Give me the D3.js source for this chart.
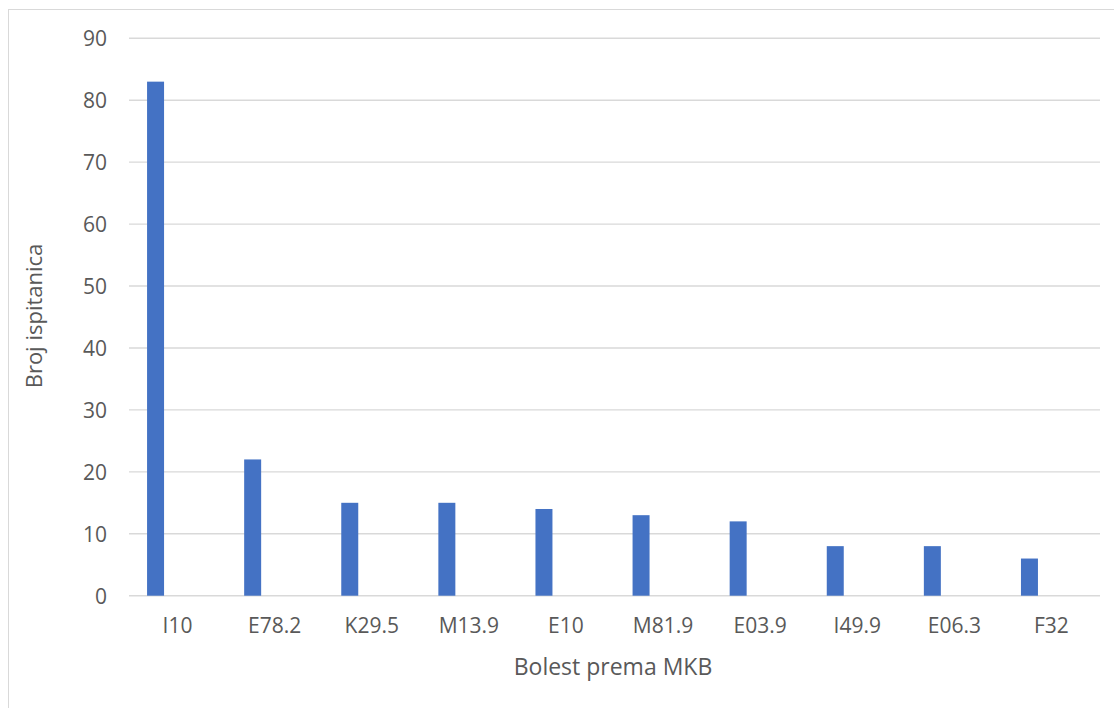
<!DOCTYPE html>
<html>
<head>
<meta charset="utf-8">
<script src="https://cdn.jsdelivr.net/npm/d3@7"></script>
<style>
  html, body { margin: 0; padding: 0; background: #fff; }
  svg { display: block; }
  text { font-family: "Open Sans", "Liberation Sans", sans-serif; fill: #595959; }
</style>
</head>
<body>
<svg id="chart" width="1114" height="708"></svg>
<script>
const categories = ["I10", "E78.2", "K29.5", "M13.9", "E10", "M81.9", "E03.9", "I49.9", "E06.3", "F32"];
const values = [83, 22, 15, 15, 14, 13, 12, 8, 8, 6];
const yTicks = [0, 10, 20, 30, 40, 50, 60, 70, 80, 90];
const xTitle = "Bolest prema MKB";
const yTitle = "Broj ispitanica";

const W = 1114, H = 708;
const plot = { left: 129, right: 1100, top: 38.3, bottom: 595.7 };

const svg = d3.select("#chart");

// chart area border
svg.append("rect")
  .attr("x", 8.5).attr("y", 9.5)
  .attr("width", W + 20).attr("height", H + 20)
  .attr("fill", "none").attr("stroke", "#d9d9d9").attr("stroke-width", 1);

const x = d3.scaleBand().domain(categories).range([plot.left, plot.right]).padding(0);
const y = d3.scaleLinear().domain([0, 90]).range([plot.bottom, plot.top]);

// gridlines
svg.append("g").selectAll("line").data(yTicks).join("line")
  .attr("x1", plot.left).attr("x2", plot.right)
  .attr("y1", d => y(d)).attr("y2", d => y(d))
  .attr("stroke", "#d9d9d9").attr("stroke-width", 1.4);

// y tick labels
const yAxis = d3.axisLeft(y).tickValues(yTicks).tickSize(0).tickPadding(0);
const gy = svg.append("g").attr("transform", `translate(${plot.left - 22},0)`).call(yAxis);
gy.select(".domain").remove();
gy.selectAll("text").attr("font-size", 21).style("fill", "#595959")
  .attr("font-family", "'Open Sans', sans-serif").attr("dy", "0.35em");

// bars
const barOffset = 0.186, barWidth = 0.175;
svg.append("g").selectAll("rect").data(values).join("rect")
  .attr("x", (d, i) => x(categories[i]) + x.bandwidth() * barOffset)
  .attr("width", x.bandwidth() * barWidth)
  .attr("y", d => y(d))
  .attr("height", d => y(0) - y(d))
  .attr("fill", "#4472C4");

// x tick labels
const xAxis = d3.axisBottom(x).tickSize(0).tickPadding(0);
const gx = svg.append("g").attr("transform", `translate(0,${plot.bottom + 22})`).call(xAxis);
gx.select(".domain").remove();
gx.selectAll("text").attr("font-size", 21).style("fill", "#595959")
  .attr("font-family", "'Open Sans', sans-serif").attr("dy", "0.71em");

// axis titles
svg.append("text").attr("x", 613).attr("y", 675)
  .attr("text-anchor", "middle").attr("font-size", 23).text(xTitle);
svg.append("text").attr("transform", "translate(42,316) rotate(-90)")
  .attr("text-anchor", "middle").attr("font-size", 22).text(yTitle);
</script>
</body>
</html>
